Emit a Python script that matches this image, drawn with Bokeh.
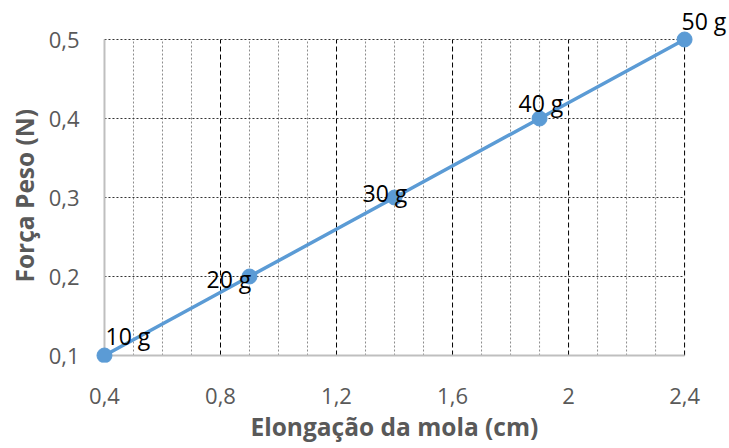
from bokeh.plotting import figure
from bokeh.models import ColumnDataSource, FixedTicker, Range1d, Title
from bokeh.embed import file_html
from bokeh.resources import INLINE
from bokeh.core.properties import value

elongacao = [0.4, 0.9, 1.4, 1.9, 2.4]
peso = [0.1, 0.2, 0.3, 0.4, 0.5]
rotulos = ["10 g", "20 g", "30 g", "40 g", "50 g"]
x_ticks = [0.4, 0.8, 1.2, 1.6, 2.0, 2.4]
x_tick_labels = ["0,4", "0,8", "1,2", "1,6", "2", "2,4"]
y_ticks = [0.1, 0.2, 0.3, 0.4, 0.5]
y_tick_labels = ["0,1", "0,2", "0,3", "0,4", "0,5"]
x_minor = [0.5, 0.6, 0.7, 0.9, 1.0, 1.1, 1.3, 1.4, 1.5, 1.7, 1.8, 1.9, 2.1, 2.2, 2.3]
x_title = "Elongação da mola (cm)"
y_title = "Força Peso (N)"

# label offsets in screen pixels (styling)
lab_dx = [1, -43, -32, -21, -3]
lab_dy = [-20, 2, -5, -16, -19]

FONT = "Open Sans"
GRAY = "#595959"

X0, X1 = x_ticks[0], x_ticks[-1]
Y0, Y1 = y_ticks[0], y_ticks[-1]
PXX = 581 / (X1 - X0)
PXY = 316 / (Y1 - Y0)

p = figure(width=728, height=447, output_backend="svg", toolbar_location=None,
           x_range=Range1d(X0 - 10 / PXX, X1 + 44 / PXX),
           y_range=Range1d(Y0 - 7 / PXY, Y1 + 34 / PXY),
           min_border_left=93, min_border_right=0, min_border_top=5, min_border_bottom=85)
p.outline_line_color = None
p.xgrid.visible = False
p.ygrid.visible = False
p.background_fill_color = None
p.border_fill_color = "white"

n = len(x_minor)
p.segment(x0=x_minor, y0=[Y0]*n, x1=x_minor, y1=[Y1]*n,
          line_color="#8c8c8c", line_width=1, line_dash="2 2")
xm = x_ticks[1:]
p.segment(x0=xm, y0=[Y0]*len(xm), x1=xm, y1=[Y1]*len(xm),
          line_color="#000000", line_width=1, line_dash="5 3")
yh = y_ticks[1:]
p.segment(x0=[X0]*len(yh), y0=yh, x1=[X1]*len(yh), y1=yh,
          line_color="#333333", line_width=1, line_dash="2 2")
p.segment(x0=[X0, X0], y0=[Y0, Y0], x1=[X0, X1], y1=[Y1, Y0],
          line_color="#bfbfbf", line_width=2)

src = ColumnDataSource(dict(x=elongacao, y=peso, t=rotulos, dx=lab_dx, dy=lab_dy))
p.line("x", "y", source=src, line_color="#5B9BD5", line_width=3.5)
p.scatter("x", "y", source=src, size=15, fill_color="#5B9BD5", line_color="#5B9BD5")
p.text("x", "y", text="t", source=src, x_offset="dx", y_offset="dy",
       text_font=value(FONT), text_font_size="23px", text_color="#000000",
       text_align="left", text_baseline="alphabetic")

p.xaxis.ticker = FixedTicker(ticks=x_ticks)
p.yaxis.ticker = FixedTicker(ticks=y_ticks)
p.xaxis.major_label_overrides = {t: l for t, l in zip(x_ticks, x_tick_labels)}
p.yaxis.major_label_overrides = {t: l for t, l in zip(y_ticks, y_tick_labels)}
for ax in (p.xaxis[0], p.yaxis[0]):
    ax.axis_line_color = None
    ax.major_tick_line_color = None
    ax.minor_tick_line_color = None
    ax.major_label_text_font = FONT
    ax.major_label_text_font_size = "22px"
    ax.major_label_text_color = GRAY
p.xaxis.major_label_standoff = 19
p.yaxis.major_label_standoff = 9

p.add_layout(Title(text=x_title, align="left", offset=156, standoff=2,
                   text_font=FONT, text_font_size="24.5px", text_font_style="bold",
                   text_color=GRAY), "below")
p.add_layout(Title(text=y_title, align="left", offset=80, standoff=10,
                   text_font=FONT, text_font_size="24.5px", text_font_style="bold",
                   text_color=GRAY), "left")

open("out.html", "w").write(file_html(p, INLINE))
